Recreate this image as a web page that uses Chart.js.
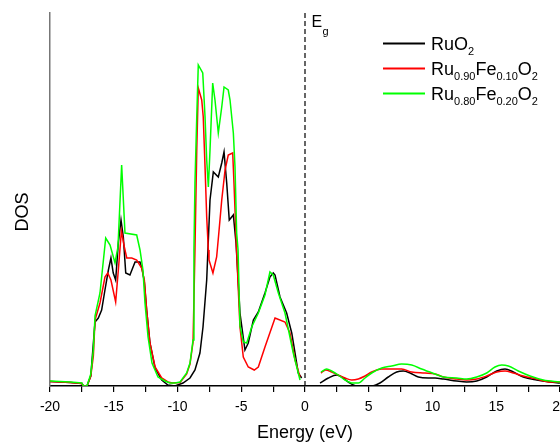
<!DOCTYPE html>
<html>
<head>
<meta charset="utf-8">
<script src="https://cdn.jsdelivr.net/npm/chart.js@4.4.0/dist/chart.umd.min.js"></script>
<style>
  html, body { margin: 0; padding: 0; background: #fff; overflow: hidden; }
  #wrap { width: 560px; height: 445px; overflow: hidden; }
  canvas { display: block; }
</style>
</head>
<body>
<div id="wrap"><canvas id="dos" width="600" height="445"></canvas></div>
<script>
const xTicks = [-20, -17.5, -15, -12.5, -10, -7.5, -5, -2.5, 0, 2.5, 5, 7.5, 10, 12.5, 15, 17.5, 20];

const seriesColors = ['#000000', '#ff0000', '#00ff00'];
const seriesNames = [
  [['RuO', 0], ['2', 1]],
  [['Ru', 0], ['0.90', 1], ['Fe', 0], ['0.10', 1], ['O', 0], ['2', 1]],
  [['Ru', 0], ['0.80', 1], ['Fe', 0], ['0.20', 1], ['O', 0], ['2', 1]]
];

// RuO2
const ruo2ValE = [-20, -19.2, -18.4, -17.5, -17.38, -17.1, -16.8, -16.47, -16.21, -15.95, -15.69, -15.42, -15.22, -15.04, -14.85, -14.64, -14.43, -14.25, -14.06, -13.73, -13.33, -12.94, -12.76, -12.6, -12.42, -12.16, -11.76, -11.24, -10.75, -10.2, -9.57, -9.02, -8.63, -8.24, -8.0, -7.71, -7.6, -7.45, -7.19, -6.8, -6.53, -6.35, -6.14, -5.94, -5.62, -5.41, -5.1, -4.71, -4.45, -4.05, -3.66, -3.14, -2.75, -2.49, -2.35, -1.96, -1.44, -1.04, -0.78, -0.53, -0.26];
const ruo2ValDos = [4.5, 4, 3.5, 2.5, 0, 0, 10, 64, 68, 76, 96, 116, 128, 113, 106, 143, 166, 149, 113, 111, 124, 124, 116, 104, 76, 43, 18, 6, 1, 0, 3, 8, 16, 33, 59, 106, 140, 186, 214, 209, 223, 234, 203, 166, 171, 143, 73, 36, 43, 66, 74, 93, 109, 113, 111, 89, 73, 53, 33, 13, 8];
const ruo2ConE = [1.18, 1.83, 2.49, 2.88, 3.4, 4.05, 4.57, 5.23, 5.88, 6.53, 7.19, 7.71, 8.24, 8.89, 9.67, 10.2, 10.85, 11.9, 12.68, 13.47, 14.25, 15.04, 15.69, 16.34, 17.12, 18.17, 19.22, 20];
const ruo2ConDos = [3, 8, 11, 9, 4, 0, 0, 0, 3, 9, 14, 15, 13, 9, 8, 8, 7, 5, 4, 5, 9, 15, 17, 14, 9, 6, 4, 3];

// Ru0.90Fe0.10O2
const fe10ValE = [-20, -19.2, -18.4, -17.5, -17.38, -17.1, -16.8, -16.6, -16.47, -16.08, -15.69, -15.47, -15.22, -14.85, -14.64, -14.4, -14.17, -13.98, -13.59, -13.2, -12.81, -12.6, -12.42, -12.16, -11.76, -11.24, -10.75, -10.4, -9.8, -9.28, -9.02, -8.78, -8.63, -8.49, -8.37, -8.1, -7.98, -7.84, -7.71, -7.58, -7.53, -7.22, -6.93, -6.78, -6.53, -6.27, -6.02, -5.67, -5.57, -5.38, -5.1, -4.84, -4.45, -3.98, -3.66, -3.14, -2.35, -1.57, -1.18, -0.78, -0.39];
const fe10ValDos = [4.5, 4, 3.5, 2.5, 0, 0, 10, 30, 66, 83, 109, 113, 106, 84, 116, 155, 139, 128, 128, 126, 118, 106, 76, 43, 19, 8, 4, 3, 3.5, 12, 22, 44, 136, 236, 298, 286, 269, 219, 169, 136, 126, 113, 129, 150, 186, 216, 231, 233, 203, 140, 59, 29, 19, 16, 19, 39, 68, 64, 53, 26, 9];
const fe10ConE = [1.25, 1.62, 2.09, 2.61, 3.14, 3.66, 4.18, 4.71, 5.23, 6.02, 6.8, 7.58, 8.37, 9.41, 10.2, 10.85, 11.9, 12.68, 13.47, 14.25, 15.04, 15.69, 16.34, 17.12, 18.17, 19.22, 20];
const fe10ConDos = [13, 16, 14, 11, 8, 6, 7, 10, 14, 17, 17, 17, 14, 13, 12, 9, 7, 6, 7, 10, 14, 15, 13, 10, 7, 4, 4];

// Ru0.80Fe0.20O2
const fe20ValE = [-20, -19.2, -18.4, -17.5, -17.38, -17.1, -16.8, -16.6, -16.47, -16.08, -15.63, -15.29, -14.9, -14.67, -14.38, -14.12, -13.2, -12.94, -12.71, -12.55, -12.31, -12.0, -11.53, -11.0, -10.59, -10.2, -9.8, -9.28, -9.02, -8.78, -8.71, -8.63, -8.49, -8.37, -8.02, -7.84, -7.71, -7.58, -7.45, -7.24, -7.06, -6.8, -6.53, -6.35, -6.02, -5.88, -5.62, -5.49, -5.36, -5.25, -5.1, -4.84, -4.57, -4.18, -3.66, -3.14, -2.75, -2.49, -2.09, -1.57, -0.92, -0.39];
const fe20ValDos = [5, 4.5, 4, 3, 0, 0, 12, 36, 70, 93, 148, 141, 123, 139, 221, 153, 151, 136, 116, 83, 49, 23, 9, 5, 3, 3, 4, 13, 23, 46, 136, 203, 269, 321, 313, 269, 226, 199, 236, 303, 286, 253, 279, 299, 296, 286, 253, 219, 153, 136, 60, 44, 43, 59, 73, 91, 114, 111, 93, 73, 33, 6];
const fe20ConE = [1.25, 1.7, 2.09, 2.61, 3.14, 3.66, 4.18, 4.71, 5.23, 6.02, 6.8, 7.58, 8.37, 9.15, 10.2, 10.85, 11.9, 12.68, 13.47, 14.25, 14.9, 15.43, 15.95, 16.73, 17.65, 18.69, 20];
const fe20ConDos = [14, 17, 15, 11, 6, 3, 3, 8, 13, 18, 20, 22, 21, 17, 12, 9, 8, 7, 9, 13, 19, 21, 20, 15, 10, 6, 4];

const gapE = [0, 0];
const gapDos = [0, 373];

const family = '"Liberation Sans", Arial, sans-serif';

const pts = (xs, ys) => xs.map((x, i) => ({ x: x, y: ys[i] }));

function line(xs, ys, color, order, smooth) {
  return {
    data: pts(xs, ys),
    borderColor: color,
    borderWidth: 1.5,
    pointRadius: 0,
    fill: false,
    order: order,
    cubicInterpolationMode: smooth ? 'monotone' : 'default',
    tension: 0
  };
}

const labelPlugin = {
  id: 'labelPlugin',
  afterDraw(chart) {
    const ctx = chart.ctx;
    ctx.save();
    ctx.fillStyle = '#000';
    ctx.textBaseline = 'alphabetic';

    // y title
    ctx.save();
    ctx.font = '18px ' + family;
    ctx.translate(27.5, 212);
    ctx.rotate(-Math.PI / 2);
    ctx.textAlign = 'center';
    ctx.fillText('DOS', 0, 0);
    ctx.restore();

    // E_g marker
    const x0 = chart.scales.x.getPixelForValue(0);
    ctx.textAlign = 'left';
    ctx.font = '16px ' + family;
    ctx.fillText('E', x0 + 6.5, 26.7);
    ctx.font = '11px ' + family;
    ctx.fillText('g', x0 + 17.5, 34.5);

    // legend
    seriesNames.forEach((parts, i) => {
      const base = 50 + i * 25;
      ctx.strokeStyle = seriesColors[i];
      ctx.lineWidth = 2;
      ctx.beginPath();
      ctx.moveTo(383, base - 6.5);
      ctx.lineTo(425, base - 6.5);
      ctx.stroke();
      let x = 431;
      parts.forEach(([t, sub]) => {
        ctx.font = (sub ? '11px ' : '18px ') + family;
        ctx.fillText(t, x, sub ? base + 5 : base);
        x += ctx.measureText(t).width;
      });
    });
    ctx.restore();
  }
};

const ctx = document.getElementById('dos').getContext('2d');
const chart = new Chart(ctx, {
  type: 'line',
  data: {
    datasets: [
      line(fe20ValE, fe20ValDos, seriesColors[2], 0, false),
      line(fe20ConE, fe20ConDos, seriesColors[2], 0, true),
      line(fe10ValE, fe10ValDos, seriesColors[1], 1, false),
      line(fe10ConE, fe10ConDos, seriesColors[1], 1, true),
      line(ruo2ValE, ruo2ValDos, seriesColors[0], 2, false),
      line(ruo2ConE, ruo2ConDos, seriesColors[0], 2, true),
      Object.assign(line(gapE, gapDos, '#000000', 3, false), { borderWidth: 1.2, borderDash: [5, 3] })
    ]
  },
  options: {
    responsive: false,
    animation: false,
    layout: { padding: { top: 13, right: 40, left: 0, bottom: 0 } },
    plugins: { legend: { display: false }, tooltip: { enabled: false } },
    scales: {
      x: {
        type: 'linear',
        min: -20,
        max: 20,
        afterFit: (s) => { s.height = 59; },
        afterBuildTicks: (s) => { s.ticks = xTicks.map(v => ({ value: v })); },
        ticks: {
          autoSkip: false,
          maxRotation: 0,
          padding: 7,
          color: '#000',
          font: { family: family, size: 14 },
          callback: (v) => (v % 5 === 0 ? String(v) : '')
        },
        grid: { display: true, drawOnChartArea: false, drawTicks: true, tickLength: 6, color: '#000', lineWidth: 1.2 },
        border: { display: true, color: '#000', width: 1.5 },
        title: { display: true, text: 'Energy (eV)', color: '#000', font: { family: family, size: 18 }, padding: { top: 0, bottom: 1 } }
      },
      y: {
        min: 0,
        max: 373,
        afterFit: (s) => { s.width = 50; },
        ticks: { display: false },
        grid: { display: false },
        border: { display: true, color: '#777', width: 1.5 }
      }
    }
  },
  plugins: [labelPlugin]
});
</script>
</body>
</html>
